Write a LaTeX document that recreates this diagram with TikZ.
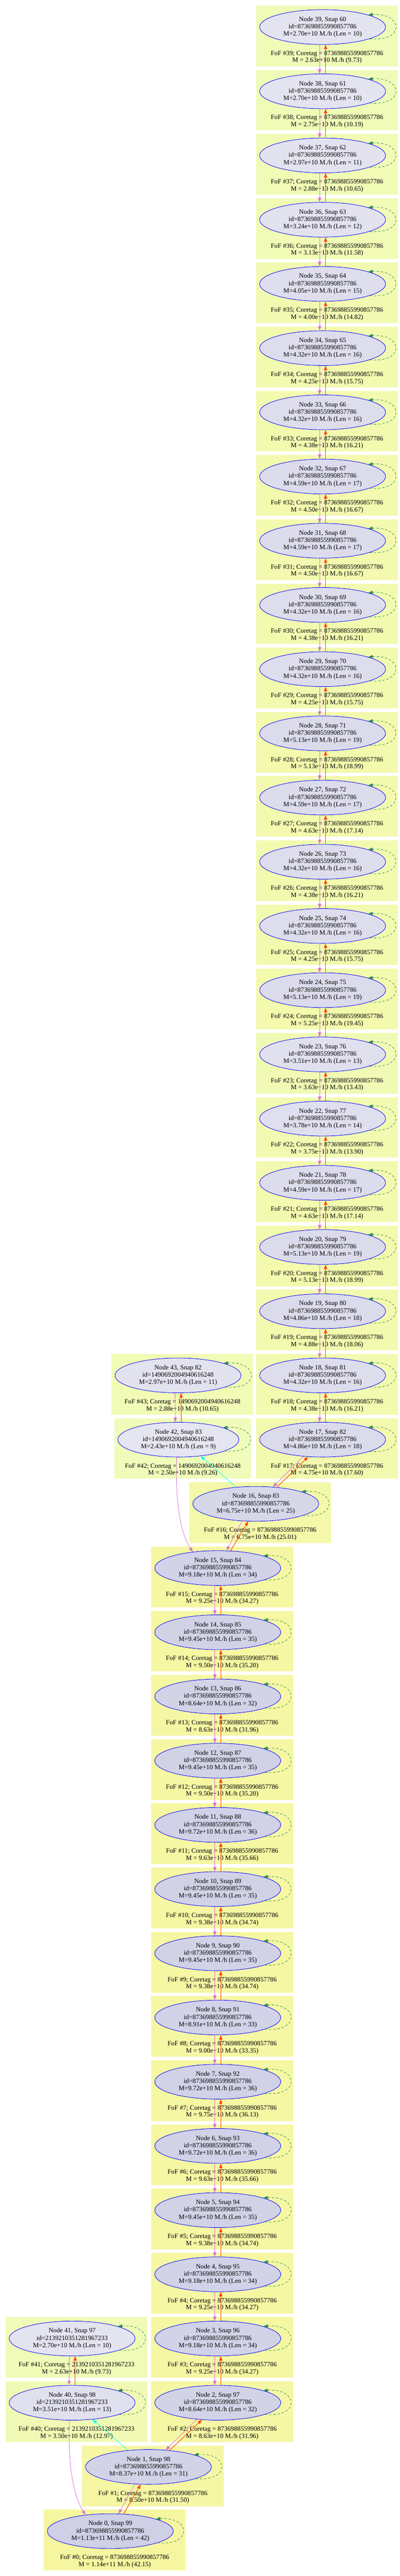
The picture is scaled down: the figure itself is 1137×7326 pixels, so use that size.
\documentclass[tikz,border=0pt]{standalone}
\usepackage{fontspec}
\setmainfont{Liberation Serif}
\usetikzlibrary{arrows.meta,calc,shapes.geometric}
\definecolor{orchidc}{HTML}{DA70D6}
\definecolor{orangeredc}{HTML}{FF4500}
\definecolor{seagreenc}{HTML}{2E8B57}
\definecolor{cyanc}{HTML}{00FFFF}
\definecolor{clusL}{HTML}{F0FCBA}
\definecolor{clusD}{HTML}{F6F6A0}
\definecolor{ellL}{HTML}{E6E6F2}
\definecolor{ellD}{HTML}{CFCFE6}
\def\idA{873698855990857786}
\def\idB{1490692004940616248}
\def\idC{2139210351281967233}
\def\ewpx{358}
\tikzset{
  halonode/.style={ellipse, draw=blue, line width=0.9pt, minimum height=74.25pt,
    inner sep=0pt, align=center, font=\fontsize{14pt}{15.6pt}\selectfont},
  foflabel/.style={inner sep=0pt, align=center, font=\fontsize{14pt}{15pt}\selectfont},
  tipA/.style={-{Triangle[length=9.5pt,width=7pt]}},
  vio/.style={draw=orchidc, line width=0.9pt, tipA},
  org/.style={draw=orangeredc, line width=1.2pt, tipA},
  cyn/.style={draw=cyanc, line width=0.9pt, tipA},
  selfloop/.style={draw=seagreenc, line width=0.9pt, dash pattern=on 5pt off 4pt, tipA},
}
% #1 node, #2 snap, #3 cx, #4 row, #5 colour pct, #6 id, #7 mass, #8 len, #9 FoF mass line
\newcommand{\halo}[9]{%
  \pgfmathsetmacro{\hcy}{77+182.6*#4}%
  \pgfmathsetmacro{\hxl}{#3-\ewpx/2-10}%
  \pgfmathsetmacro{\hxr}{#3+\ewpx/2+35}%
  \pgfmathsetmacro{\hlx}{(\hxl+\hxr)/2}%
  \colorlet{cf}{clusD!#5!clusL}%
  \colorlet{ef}{ellD!#5!ellL}%
  \fill[cf] (\hxl,\hcy-61) rectangle (\hxr,\hcy+111.6);
  \node[foflabel] (f#1) at (\hlx,\hcy+86) {FoF \##1; Coretag = #6\\M = #9};
  \node[halonode, fill=ef, minimum width=\ewpx*0.75pt] (n#1) at (#3,\hcy) {Node #1, Snap #2\\id=#6\\M=#7 M./h (Len = #8)};
  \draw[selfloop] (n#1.346) .. controls +(102,9) and +(99,-7) .. (n#1.15);
}
\newcommand{\chain}[2]{%
  \draw[vio] ($(n#1.south)+(-8.5,0)$) -- ($(n#2.north)+(-8.5,0)$);
  \draw[org] ($(n#2.north)+(8.5,0)$) -- ($(n#1.south)+(8.5,0)$);
}
\begin{document}
\begin{tikzpicture}[x=0.75pt,y=-0.75pt]
\useasboundingbox (0,0) rectangle (1137,7326);
\fill[white] (0,0) rectangle (1137,7326);
% right column
\halo{39}{60}{917}{0}{8}{\idA}{2.70e+10}{10}{2.63e+10 M./h (9.73)}
\halo{38}{61}{917}{1}{8}{\idA}{2.70e+10}{10}{2.75e+10 M./h (10.19)}
\halo{37}{62}{917}{2}{14}{\idA}{2.97e+10}{11}{2.88e+10 M./h (10.65)}
\halo{36}{63}{917}{3}{19}{\idA}{3.24e+10}{12}{3.13e+10 M./h (11.58)}
\halo{35}{64}{917}{4}{34}{\idA}{4.05e+10}{15}{4.00e+10 M./h (14.82)}
\halo{34}{65}{917}{5}{38}{\idA}{4.32e+10}{16}{4.25e+10 M./h (15.75)}
\halo{33}{66}{917}{6}{38}{\idA}{4.32e+10}{16}{4.38e+10 M./h (16.21)}
\halo{32}{67}{917}{7}{42}{\idA}{4.59e+10}{17}{4.50e+10 M./h (16.67)}
\halo{31}{68}{917}{8}{42}{\idA}{4.59e+10}{17}{4.50e+10 M./h (16.67)}
\halo{30}{69}{917}{9}{38}{\idA}{4.32e+10}{16}{4.38e+10 M./h (16.21)}
\halo{29}{70}{917}{10}{38}{\idA}{4.32e+10}{16}{4.25e+10 M./h (15.75)}
\halo{28}{71}{917}{11}{49}{\idA}{5.13e+10}{19}{5.13e+10 M./h (18.99)}
\halo{27}{72}{917}{12}{42}{\idA}{4.59e+10}{17}{4.63e+10 M./h (17.14)}
\halo{26}{73}{917}{13}{38}{\idA}{4.32e+10}{16}{4.38e+10 M./h (16.21)}
\halo{25}{74}{917}{14}{38}{\idA}{4.32e+10}{16}{4.25e+10 M./h (15.75)}
\halo{24}{75}{917}{15}{49}{\idA}{5.13e+10}{19}{5.25e+10 M./h (19.45)}
\halo{23}{76}{917}{16}{25}{\idA}{3.51e+10}{13}{3.63e+10 M./h (13.43)}
\halo{22}{77}{917}{17}{29}{\idA}{3.78e+10}{14}{3.75e+10 M./h (13.90)}
\halo{21}{78}{917}{18}{42}{\idA}{4.59e+10}{17}{4.63e+10 M./h (17.14)}
\halo{20}{79}{917}{19}{49}{\idA}{5.13e+10}{19}{5.13e+10 M./h (18.99)}
\halo{19}{80}{917}{20}{46}{\idA}{4.86e+10}{18}{4.88e+10 M./h (18.06)}
\halo{18}{81}{917}{21}{38}{\idA}{4.32e+10}{16}{4.38e+10 M./h (16.21)}
\halo{17}{82}{917}{22}{46}{\idA}{4.86e+10}{18}{4.75e+10 M./h (17.60)}
% left branch 43/42
\halo{43}{82}{506}{21}{14}{\idB}{2.97e+10}{11}{2.88e+10 M./h (10.65)}
\def\ewpx{344}
\halo{42}{83}{507}{22}{1}{\idB}{2.43e+10}{9}{2.50e+10 M./h (9.26)}
\def\ewpx{358}
% node 16
\halo{16}{83}{727}{23}{67}{\idA}{6.75e+10}{25}{6.75e+10 M./h (25.01)}
% main chain
\halo{15}{84}{619}{24}{87}{\idA}{9.18e+10}{34}{9.25e+10 M./h (34.27)}
\halo{14}{85}{619}{25}{88}{\idA}{9.45e+10}{35}{9.50e+10 M./h (35.20)}
\halo{13}{86}{619}{26}{83}{\idA}{8.64e+10}{32}{8.63e+10 M./h (31.96)}
\halo{12}{87}{619}{27}{88}{\idA}{9.45e+10}{35}{9.50e+10 M./h (35.20)}
\halo{11}{88}{619}{28}{90}{\idA}{9.72e+10}{36}{9.63e+10 M./h (35.66)}
\halo{10}{89}{619}{29}{88}{\idA}{9.45e+10}{35}{9.38e+10 M./h (34.74)}
\halo{9}{90}{619}{30}{88}{\idA}{9.45e+10}{35}{9.38e+10 M./h (34.74)}
\halo{8}{91}{619}{31}{85}{\idA}{8.91e+10}{33}{9.00e+10 M./h (33.35)}
\halo{7}{92}{619}{32}{90}{\idA}{9.72e+10}{36}{9.75e+10 M./h (36.13)}
\halo{6}{93}{619}{33}{90}{\idA}{9.72e+10}{36}{9.63e+10 M./h (35.66)}
\halo{5}{94}{619}{34}{88}{\idA}{9.45e+10}{35}{9.38e+10 M./h (34.74)}
\halo{4}{95}{619}{35}{87}{\idA}{9.18e+10}{34}{9.25e+10 M./h (34.27)}
\halo{3}{96}{619}{36}{87}{\idA}{9.18e+10}{34}{9.25e+10 M./h (34.27)}
\halo{2}{97}{619}{37}{83}{\idA}{8.64e+10}{32}{8.63e+10 M./h (31.96)}
% left branch 41/40
\halo{41}{97}{205}{36}{8}{\idC}{2.70e+10}{10}{2.63e+10 M./h (9.73)}
\halo{40}{98}{205}{37}{25}{\idC}{3.51e+10}{13}{3.50e+10 M./h (12.97)}
% bottom
\halo{1}{98}{422}{38}{81}{\idA}{8.37e+10}{31}{8.50e+10 M./h (31.50)}
\halo{0}{99}{313.5}{39}{100}{\idA}{1.13e+11}{42}{1.14e+11 M./h (42.15)}
% ---- edges ----
\foreach \na [evaluate=\na as \nb using int(\na-1)] in {39,38,...,18} {\chain{\na}{\nb}}
\foreach \na [evaluate=\na as \nb using int(\na-1)] in {15,14,...,3} {\chain{\na}{\nb}}
\chain{43}{42}
\chain{41}{40}
% 17 -> 16
\draw[vio] ($(n17.south)+(-55,-2.4)$) -- ($(n16.north)+(49,1.9)$);
\draw[org] ($(n16.north)+(60,2.9)$) -- ($(n17.south)+(-41,-1.3)$);
% 16 -> 15
\draw[vio] ($(n16.south)+(-39,-1.2)$) -- ($(n15.north)+(25,0.5)$);
\draw[org] ($(n15.north)+(36,1)$) -- ($(n16.south)+(-21,-0.3)$);
% 16 -> 42
\draw[cyn] ($(n16.north)+(-56,2.5)$) -- ($(n42.south)+(63,-3.4)$);
% 42 -> 15
\draw[vio] ($(n42.south)+(-5,0)$) .. controls +(-4,137) and +(-33,-50) .. ($(n15.north)+(-71,4.1)$);
% 2 -> 1
\draw[vio] ($(n2.south)+(-60,-2.9)$) -- ($(n1.north)+(49,1.9)$);
\draw[org] ($(n1.north)+(60,2.9)$) -- ($(n2.south)+(-45,-1.6)$);
% 1 -> 40
\draw[cyn] ($(n1.north)+(-58,2.7)$) -- ($(n40.south)+(58,-2.7)$);
% 1 -> 0
\draw[vio] ($(n1.south)+(-39,-1.2)$) -- ($(n0.north)+(23.5,0.4)$);
\draw[org] ($(n0.north)+(38,1)$) -- ($(n1.south)+(-22,-0.3)$);
% 40 -> 0
\draw[vio] ($(n40.south)+(-8,0)$) .. controls +(-4,138) and +(-33,-53) .. ($(n0.north)+(-70.5,4)$);
\end{tikzpicture}
\end{document}
